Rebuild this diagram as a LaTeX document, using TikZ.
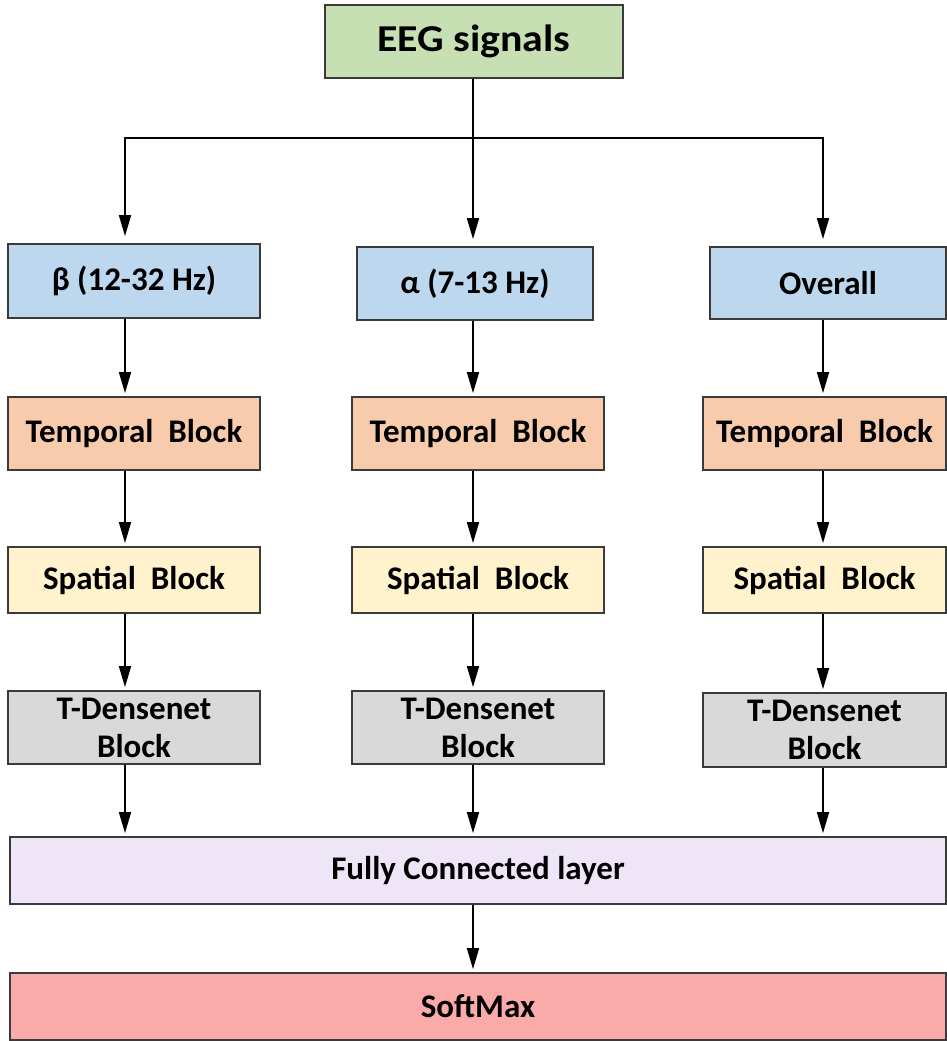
\documentclass[tikz,border=0pt]{standalone}
\usepackage{fontspec}
\setmainfont{Carlito}
\usetikzlibrary{arrows.meta,calc}

\definecolor{eegfill}{HTML}{C6E0B4}
\definecolor{bandfill}{HTML}{BDD7EE}
\definecolor{tempfill}{HTML}{F8CBAD}
\definecolor{spatfill}{HTML}{FFF2CC}
\definecolor{densefill}{HTML}{D9D9D9}
\definecolor{fcfill}{HTML}{EEE5F6}
\definecolor{smfill}{HTML}{FBAAAA}
\definecolor{edge}{HTML}{3A3A3A}

\tikzset{
  blockbox/.style={draw=edge, line width=1.8pt, rectangle, inner sep=0pt,
    align=center, font=\bfseries\fontsize{33}{38}\selectfont},
  flow/.style={draw=black, line width=1.6pt,
    -{Triangle[width=12pt,length=21pt]}, shorten >=3pt},
  plain/.style={draw=black, line width=1.6pt}
}

\begin{document}
\begin{tikzpicture}[x=1pt,y=-1pt]
  \useasboundingbox (0,0) rectangle (947,1041);
  \clip (0,0) rectangle (947,1041);

  % column lines for the vertical connectors
  \coordinate (c1) at (125,0);
  \coordinate (c2) at (473,0);
  \coordinate (c3) at (823,0);
  \coordinate (hub) at (473,138);

  % input
  \node[blockbox, fill=eegfill, minimum width=298pt, minimum height=73pt,
        font=\bfseries\fontsize{38}{44}\selectfont] (eeg) at (474,41.5)
        {\scalebox{1.1}[1]{EEG signals}};

  % frequency bands
  \node[blockbox, fill=bandfill, minimum width=252pt, minimum height=74pt] (beta) at (134,281) {β (12-32 Hz)};
  \node[blockbox, fill=bandfill, minimum width=236pt, minimum height=73pt] (alpha) at (475,283.5) {α (7-13 Hz)};
  \node[blockbox, fill=bandfill, minimum width=236pt, minimum height=72pt] (overall) at (828,283) {Overall};

  % temporal blocks
  \node[blockbox, fill=tempfill, minimum width=252pt, minimum height=73pt] (tb1) at (134,433.5) {Temporal\ \ Block};
  \node[blockbox, fill=tempfill, minimum width=252pt, minimum height=73pt] (tb2) at (478,433.5) {Temporal\ \ Block};
  \node[blockbox, fill=tempfill, minimum width=243pt, minimum height=73pt] (tb3) at (824.5,433.5) {Temporal\ \ Block};

  % spatial blocks
  \node[blockbox, fill=spatfill, minimum width=252pt, minimum height=66pt] (sb1) at (134,580) {Spatial\ \ Block};
  \node[blockbox, fill=spatfill, minimum width=252pt, minimum height=66pt] (sb2) at (478,580) {Spatial\ \ Block};
  \node[blockbox, fill=spatfill, minimum width=243pt, minimum height=66pt] (sb3) at (824.5,580) {Spatial\ \ Block};

  % T-Densenet blocks
  \node[blockbox, fill=densefill, minimum width=252pt, minimum height=73pt] (db1) at (134,727.5) {T-Densenet\\Block};
  \node[blockbox, fill=densefill, minimum width=252pt, minimum height=73pt] (db2) at (478,727.5) {T-Densenet\\Block};
  \node[blockbox, fill=densefill, minimum width=243pt, minimum height=74pt] (db3) at (824.5,730) {T-Densenet\\Block};

  % classifier head
  \node[blockbox, fill=fcfill, minimum width=936pt, minimum height=67pt] (fc) at (478,870.5) {Fully Connected layer};
  \node[blockbox, fill=smfill, minimum width=936pt, minimum height=67pt] (sm) at (478,1006.5) {SoftMax};

  % split of the input into three branches
  \draw[plain] (eeg.south -| c2) -- (hub);
  \draw[flow] (hub) -| ($(beta.north -| c1)+(0,-4)$);
  \draw[flow] (hub) -| ($(overall.north -| c3)+(0,-4)$);
  \draw[flow] (hub) -- ($(alpha.north -| c2)+(0,-4)$);

  % branch 1
  \draw[flow] (beta.south -| c1) -- (tb1.north -| c1);
  \draw[flow] (tb1.south -| c1) -- (sb1.north -| c1);
  \draw[flow] (sb1.south -| c1) -- (db1.north -| c1);
  \draw[flow] (db1.south -| c1) -- (fc.north -| c1);

  % branch 2
  \draw[flow] (alpha.south -| c2) -- (tb2.north -| c2);
  \draw[flow] (tb2.south -| c2) -- (sb2.north -| c2);
  \draw[flow] (sb2.south -| c2) -- (db2.north -| c2);
  \draw[flow] (db2.south -| c2) -- (fc.north -| c2);

  % branch 3
  \draw[flow] (overall.south -| c3) -- (tb3.north -| c3);
  \draw[flow] (tb3.south -| c3) -- (sb3.north -| c3);
  \draw[flow] (sb3.south -| c3) -- (db3.north -| c3);
  \draw[flow] (db3.south -| c3) -- (fc.north -| c3);

  % output
  \draw[flow] (fc.south -| c2) -- (sm.north -| c2);
\end{tikzpicture}
\end{document}
